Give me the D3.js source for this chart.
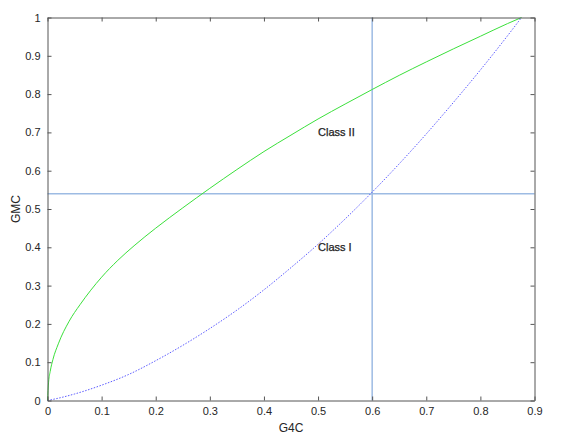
<!DOCTYPE html>
<html><head><meta charset="utf-8">
<script src="https://cdn.jsdelivr.net/npm/d3@7"></script>
<style>body{margin:0;background:#fff;} text{font-family:"Liberation Sans",Arial,Helvetica,sans-serif;}</style>
</head><body>
<svg id="c" width="574" height="440"></svg>
<script>
const xTicks = [0,0.1,0.2,0.3,0.4,0.5,0.6,0.7,0.8,0.9];
const yTicks = [0,0.1,0.2,0.3,0.4,0.5,0.6,0.7,0.8,0.9,1];
const classIIx = [0,0.002,0.005,0.01,0.02,0.04,0.06,0.08,0.1,0.13,0.16,0.2,0.25,0.3,0.35,0.4,0.45,0.5,0.55,0.6,0.65,0.7,0.75,0.8,0.85,0.876];
const classIIy = [0,0.048,0.076,0.107,0.148,0.207,0.250,0.288,0.322,0.366,0.404,0.450,0.503,0.554,0.603,0.650,0.693,0.735,0.774,0.812,0.849,0.884,0.918,0.951,0.984,1.0];
const classIx = [0,0.02,0.05,0.1,0.15,0.2,0.25,0.3,0.35,0.4,0.45,0.5,0.55,0.6,0.65,0.7,0.75,0.8,0.85,0.876];
const classIy = [0,0.006,0.017,0.040,0.068,0.104,0.144,0.188,0.236,0.289,0.347,0.408,0.474,0.544,0.618,0.696,0.778,0.863,0.952,1.0];
const hLine = 0.54, vLine = 0.6;
const labels = [{t:"Class II", x:0.5, y:0.70},{t:"Class I", x:0.5, y:0.40}];

const svg = d3.select("#c");
const L=47.5, R=534.5, T=17.5, B=400.5;
const x = d3.scaleLinear().domain([0,0.9]).range([L,R]);
const y = d3.scaleLinear().domain([0,1]).range([B,T]);
const g = svg.append("g");

// reference lines
g.append("line").attr("x1",x(0)).attr("x2",x(0.9)).attr("y1",y(hLine)).attr("y2",y(hLine))
  .attr("stroke","#9dbbe3").attr("stroke-width",1.5);
g.append("line").attr("x1",x(vLine)).attr("x2",x(vLine)).attr("y1",y(0)).attr("y2",y(1))
  .attr("stroke","#9dbbe3").attr("stroke-width",1.5);

const line = d3.line().x(d=>x(d[0])).y(d=>y(d[1])).curve(d3.curveMonotoneX);
g.append("path").datum(classIIx.map((v,i)=>[v,classIIy[i]])).attr("d",line)
  .attr("fill","none").attr("stroke","#3be03b").attr("stroke-width",1);
g.append("path").datum(classIx.map((v,i)=>[v,classIy[i]])).attr("d",line)
  .attr("fill","none").attr("stroke","#4a4aff").attr("stroke-width",0.9).attr("stroke-dasharray","1.5,1.5");

labels.forEach(l=>{
  g.append("text").attr("x",x(l.x)).attr("y",y(l.y)).attr("dy","0.35em")
   .attr("font-size",11).attr("fill","#222").attr("stroke","#222").attr("stroke-width",0.25).text(l.t);
});

// axes
const ax = s=>s.tickSizeOuter(0);
svg.append("g").attr("transform",`translate(0,${B})`)
  .call(ax(d3.axisBottom(x).tickValues(xTicks).tickFormat(d3.format("~g")).tickSizeInner(-4).tickPadding(7)));
svg.append("g").attr("transform",`translate(0,${T})`)
  .call(ax(d3.axisTop(x).tickValues(xTicks).tickFormat("").tickSizeInner(-4)));
svg.append("g").attr("transform",`translate(${L},0)`)
  .call(ax(d3.axisLeft(y).tickValues(yTicks).tickFormat(d3.format("~g")).tickSizeInner(-4).tickPadding(7)));
svg.append("g").attr("transform",`translate(${R},0)`)
  .call(ax(d3.axisRight(y).tickValues(yTicks).tickFormat("").tickSizeInner(-4)));
svg.selectAll(".domain").attr("stroke","#555");
svg.selectAll(".tick line").attr("stroke","#555");
svg.selectAll(".tick text").attr("font-size",11).attr("fill","#262626")
  .attr("font-family","Liberation Sans, Arial, sans-serif");

svg.append("text").attr("x",(L+R)/2).attr("y",432).attr("text-anchor","middle")
  .attr("font-size",12).attr("fill","#262626").text("G4C");
svg.append("text").attr("transform",`translate(20,${(T+B)/2}) rotate(-90)`).attr("text-anchor","middle")
  .attr("font-size",12).attr("fill","#262626").text("GMC");
</script>
</body></html>
